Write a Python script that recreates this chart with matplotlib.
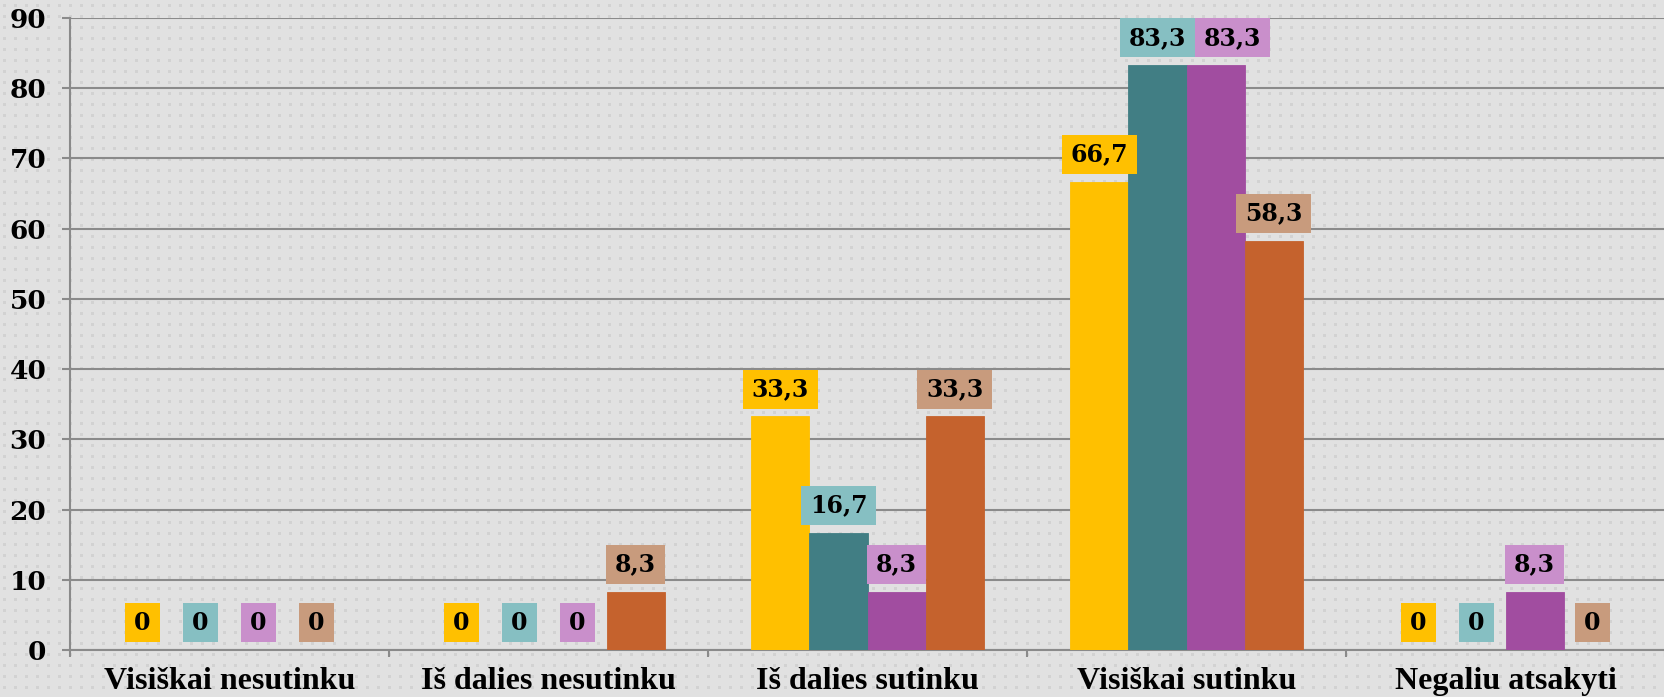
import numpy as np
import matplotlib
matplotlib.use("Agg")
import matplotlib.pyplot as plt
from matplotlib.ticker import FixedLocator
from matplotlib.path import Path

categories = ["Visiškai nesutinku", "Iš dalies nesutinku", "Iš dalies sutinku",
              "Visiškai sutinku", "Negaliu atsakyti"]
series_a = [0, 0, 33.3, 66.7, 0]
series_b = [0, 0, 16.7, 83.3, 0]
series_c = [0, 0, 8.3, 83.3, 8.3]
series_d = [0, 8.3, 33.3, 58.3, 0]
yticks = [0, 10, 20, 30, 40, 50, 60, 70, 80, 90]

all_series = [series_a, series_b, series_c, series_d]
bar_colors = ["#FFC000", "#417E84", "#A14DA0", "#C5622D"]
box_colors = ["#FFC000", "#86BFC2", "#C98FCB", "#C89B7D"]

W, H = 1665, 697
DPI = 100
fig = plt.figure(figsize=(W / DPI, H / DPI), dpi=DPI)
fig.patch.set_facecolor("#E1E1E1")

# dotted background texture
bg = np.full((H, W, 3), 225, dtype=np.uint8)
for yy in range(4, H, 11):
    for xx in range(3, W, 11):
        bg[yy:yy + 3, xx:xx + 3] = 210
fig.figimage(bg, xo=0, yo=0, zorder=0)


def label_box(x0, y0, width, height, mutation_size, padx=9.0, pady=7.5):
    xa, xb = x0 - padx, x0 + width + padx
    ya, yb = y0 - pady, y0 + height + pady
    return Path([(xa, ya), (xb, ya), (xb, yb), (xa, yb), (xa, ya)],
                [Path.MOVETO, Path.LINETO, Path.LINETO, Path.LINETO, Path.CLOSEPOLY])


ax = fig.add_axes([70 / W, 1 - 650 / H, 1 - 70 / W, (650 - 18) / H])
ax.set_facecolor("none")
ax.set_zorder(1)

n = len(all_series)
bw = 0.182
x = np.arange(len(categories))
grid_col = "#8A8A8A"
val_font = dict(family="DejaVu Serif", weight="bold", size=17)

label_items = []
for i, (vals, bc, lc) in enumerate(zip(all_series, bar_colors, box_colors)):
    xs = x + (i - (n - 1) / 2) * bw
    ax.bar(xs, vals, width=bw, color=bc, edgecolor=bc, linewidth=0.6, zorder=3)
    for j, (xv, v) in enumerate(zip(xs, vals)):
        lab = ("%.1f" % v).replace(".", ",") if v != 0 else "0"
        label_items.append((j, i, xv, v, lab, lc))

ax.set_ylim(0, 90)
ax.set_xlim(-0.5, len(categories) - 0.5)

# place labels, nudging right if a box would overlap the previous one in the group
px_per_x = (W - 70) / len(categories)
label_items.sort(key=lambda t: (t[0], t[1]))
prev = {}
for j, i, xv, v, lab, lc in label_items:
    est_w = 0.696 * 17 / 72 * DPI * len(lab.replace(",", "")) + 0.318 * 17 / 72 * DPI * lab.count(",") + 18
    cx = xv * px_per_x
    left = cx - est_w / 2
    dx = 0.0
    if j in prev:
        pr_right, pr_v = prev[j]
        if abs(pr_v - v) < 6 and left < pr_right:
            dx = pr_right - left
    prev[j] = (cx + dx + est_w / 2, v)
    ax.annotate(lab, xy=(xv, v), xytext=(dx * 72 / DPI, 19.5), textcoords="offset points",
                ha="center", va="center", color="black", zorder=5,
                bbox=dict(boxstyle=label_box, fc=lc, ec="none"),
                **val_font)

ax.set_yticks(yticks)
ax.yaxis.grid(True, color=grid_col, linewidth=1.5, zorder=1)
ax.set_axisbelow(True)

for s in ["top", "right"]:
    ax.spines[s].set_visible(False)
for s in ["left", "bottom"]:
    ax.spines[s].set_color(grid_col)
    ax.spines[s].set_linewidth(1.5)

ax.tick_params(axis="y", length=6, width=1.5, color=grid_col, pad=11)
for t in ax.get_yticklabels():
    t.set_fontfamily("DejaVu Serif")
    t.set_fontweight("bold")
    t.set_fontsize(19)

ax.set_xticks(x)
ax.set_xticklabels(categories)
ax.xaxis.set_minor_locator(FixedLocator(np.arange(-0.5, len(categories), 1.0)))
ax.tick_params(axis="x", which="major", length=0, pad=12)
ax.tick_params(axis="x", which="minor", length=5, width=1.5, color=grid_col)
for t in ax.get_xticklabels():
    t.set_fontfamily("Liberation Serif")
    t.set_fontweight("bold")
    t.set_fontsize(23)

fig.savefig("out.png", dpi=DPI, facecolor=fig.get_facecolor())
